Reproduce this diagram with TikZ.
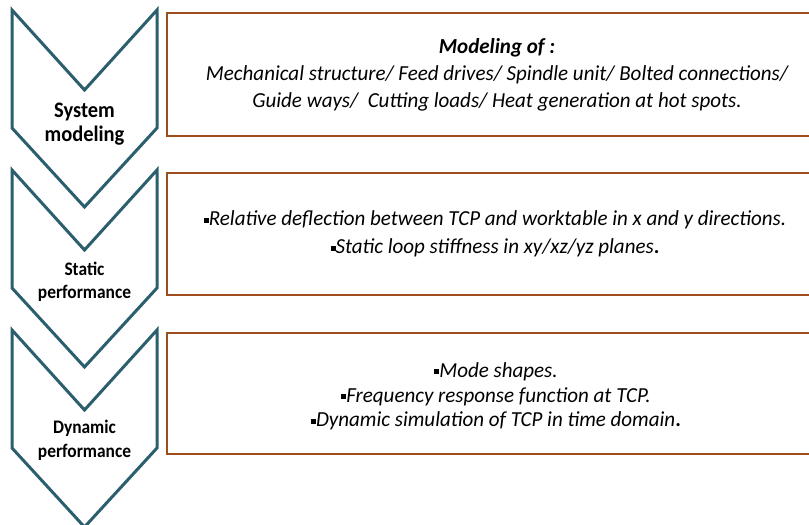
\documentclass[tikz,border=0pt]{standalone}
\usepackage{fontspec}
\usepackage{graphicx}
\setmainfont{Carlito}
\definecolor{chevteal}{HTML}{2B5F6E}
\definecolor{boxbrown}{HTML}{9E4E1C}
\tikzset{
  chev/.style={draw=chevteal, line width=3pt, fill=white, line join=miter},
  infobox/.style={draw=boxbrown, line width=1.8pt, fill=white},
  steplabel/.style={align=center, inner sep=0pt},
  infotext/.style={align=center, inner sep=0pt},
}
% small square bullet
\newcommand{\sqbul}{\raisebox{0.28ex}{\rule{0.24em}{0.24em}}}
% centred lines in a given font, stretched vertically by #1
\newcommand{\tallstack}[3]{\scalebox{1}[#1]{#2\begin{tabular}{@{}c@{}}#3\end{tabular}}}
\newcommand{\chevronat}[2]{%
  \draw[chev] (12,#1) coordinate (#2-tl) -- (84.5,#1+80) coordinate (#2-notch)
    -- (157,#1) coordinate (#2-tr) -- (157,#1+118) -- (84.5,#1+197) coordinate (#2-tip)
    -- (12,#1+118) -- cycle;}
\begin{document}
\begin{tikzpicture}[x=1pt,y=-1pt]
  \useasboundingbox (0,0) rectangle (809,525);
  % step chevrons
  \chevronat{10}{c1}
  \chevronat{170}{c2}
  \chevronat{330}{c3}
  \node[steplabel] (l1) at (84.5,124.5)
    {\tallstack{1.08}{\bfseries\fontsize{20.5}{23.1}\selectfont}{System\\modeling}};
  \node[steplabel] (l2) at (84.5,282.5)
    {\tallstack{1.1}{\bfseries\fontsize{17.4}{20.9}\selectfont}{Static\\performance}};
  \node[steplabel] (l3) at (84.5,441)
    {\tallstack{1.1}{\bfseries\fontsize{17.4}{21.8}\selectfont}{Dynamic\\performance}};
  % description boxes (running past the right edge)
  \draw[infobox] (167,13) rectangle (830,136);
  \draw[infobox] (167,173) rectangle (830,295);
  \draw[infobox] (167,333) rectangle (830,454);
  \node[infotext] (t1) at (497,75) {\tallstack{1.02}{\itshape\fontsize{21}{26.5}\selectfont}{%
    \textbf{Modeling of :}\\
    Mechanical structure/ Feed drives/ Spindle unit/ Bolted connections/\\
    Guide ways/\ \ Cutting loads/ Heat generation at hot spots.}};
  \node[infotext] (t2) at (495,234) {\tallstack{1.02}{\itshape\fontsize{21}{27.5}\selectfont}{%
    \sqbul Relative deflection between TCP and worktable in x and y directions.\\
    \sqbul Static loop stiffness in xy/xz/yz planes{\upshape\bfseries .}}};
  \node[infotext] (t3) at (496,397) {\tallstack{1.02}{\itshape\fontsize{21}{24.5}\selectfont}{%
    \sqbul Mode shapes.\\
    \sqbul Frequency response function at TCP.\\
    \sqbul Dynamic simulation of TCP in time domain{\upshape\bfseries .}}};
\end{tikzpicture}
\end{document}
